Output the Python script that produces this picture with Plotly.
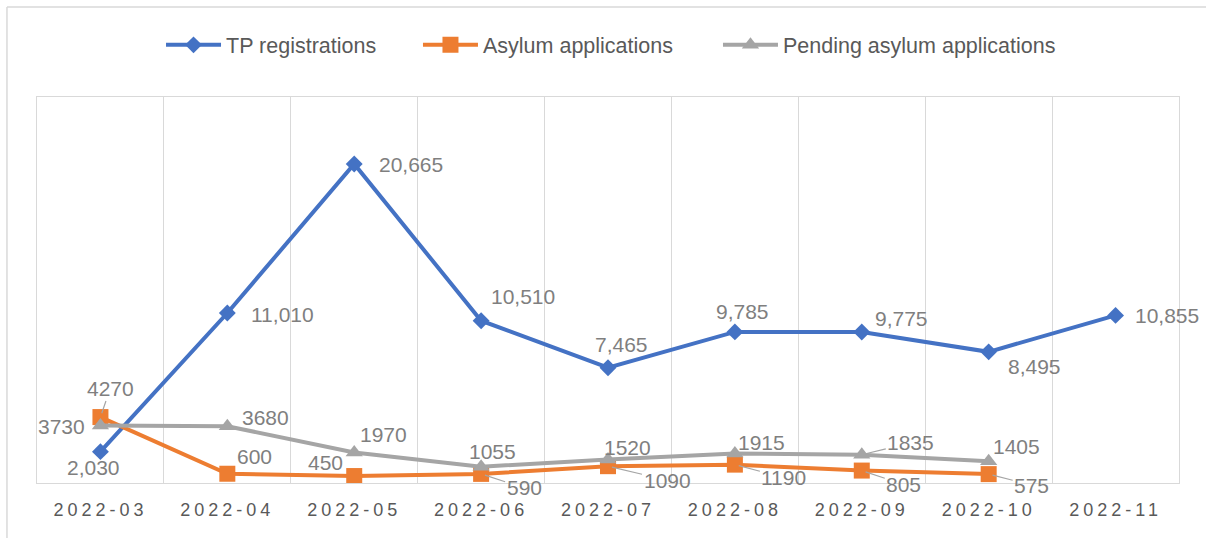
import plotly.graph_objects as go

months = ["2022-03", "2022-04", "2022-05", "2022-06", "2022-07", "2022-08", "2022-09", "2022-10", "2022-11"]
tp_registrations = [2030, 11010, 20665, 10510, 7465, 9785, 9775, 8495, 10855]
asylum_applications = [4270, 600, 450, 590, 1090, 1190, 805, 575]
pending_applications = [3730, 3680, 1970, 1055, 1520, 1915, 1835, 1405]

tp_text = [f"{v:,}" for v in tp_registrations]
asylum_text = [str(v) for v in asylum_applications]
pending_text = [str(v) for v in pending_applications]

# label placement (pixel offsets of label centre from point; leader flag)
tp_offsets = [(-7, 16, False), (55, 1, False), (57, 1, False), (42, -24, False), (13, -23, False),
              (8, -20, False), (40, -14, False), (46, 15, False), (51, 0, False)]
asylum_offsets = [(10, -29, True), (27, -17, False), (-29, -14, False), (43, 14, True), (59, 14, True),
                  (49, 13, True), (42, 14, True), (43, 11, True)]
pending_offsets = [(-39, 1, False), (38, -9, False), (29, -18, False), (11, -15, False), (19, -12, False),
                   (27, -11, False), (49, -12, True), (28, -15, False)]

BLUE = "#4472C4"
ORANGE = "#ED7D31"
GRAY = "#A5A5A5"
GRID = "#D9D9D9"
LABEL = "#7F7F7F"
TEXT = "#595959"
FONT = "Liberation Sans"

fig = go.Figure()
fig.add_trace(go.Scatter(x=months, y=tp_registrations, name="TP registrations", mode="lines+markers",
                         line=dict(color=BLUE, width=4), marker=dict(symbol="diamond", size=13, color=BLUE),
                         legend="legend"))
fig.add_trace(go.Scatter(x=months[:len(asylum_applications)], y=asylum_applications, name="Asylum applications",
                         mode="lines+markers", line=dict(color=ORANGE, width=4),
                         marker=dict(symbol="square", size=16, color=ORANGE), legend="legend2"))
fig.add_trace(go.Scatter(x=months[:len(pending_applications)], y=pending_applications,
                         name="Pending asylum applications", mode="lines+markers",
                         line=dict(color=GRAY, width=4), marker=dict(symbol="triangle-up", size=15, color=GRAY),
                         legend="legend3"))

annotations = []
for vals, texts, offs in [(tp_registrations, tp_text, tp_offsets),
                          (asylum_applications, asylum_text, asylum_offsets),
                          (pending_applications, pending_text, pending_offsets)]:
    for i, (v, t) in enumerate(zip(vals, texts)):
        dx, dy, leader = offs[i]
        if leader:
            annotations.append(dict(x=months[i], y=v, xref="x", yref="y", text=t, showarrow=True,
                                    ax=dx, ay=dy, axref="pixel", ayref="pixel", arrowhead=0,
                                    arrowwidth=1.2, arrowcolor=GRAY, standoff=4,
                                    font=dict(family=FONT, size=21, color=LABEL)))
        else:
            annotations.append(dict(x=months[i], y=v, xref="x", yref="y", text=t, showarrow=False,
                                    xshift=dx, yshift=-dy, xanchor="center", yanchor="middle",
                                    font=dict(family=FONT, size=21, color=LABEL)))

def legend_at(xp):
    return dict(orientation="h", x=xp, xanchor="left", y=1.135, yanchor="middle", itemwidth=55,
                font=dict(family=FONT, size=21.5, color=TEXT), bgcolor="rgba(0,0,0,0)")

fig.update_layout(
    width=1206, height=538,
    margin=dict(l=37, r=27, t=97, b=55),
    paper_bgcolor="white", plot_bgcolor="white",
    font=dict(family=FONT, color=TEXT),
    showlegend=True,
    legend=legend_at(0.1086),
    legend2=legend_at(0.3336),
    legend3=legend_at(0.5963),
    xaxis=dict(type="category", tickson="boundaries", showgrid=True, gridcolor=GRID, gridwidth=1,
               showline=True, linecolor=GRID, linewidth=1, mirror=True,
               ticks="", ticklabelstandoff=10,
               tickfont=dict(family=FONT, size=18, color=TEXT), range=[-0.5, 8.5]),
    yaxis=dict(range=[0, 25000], showticklabels=False, showgrid=False, zeroline=False,
               showline=True, linecolor=GRID, linewidth=1, mirror=True),
    annotations=annotations,
    shapes=[
        dict(type="line", xref="paper", yref="paper", x0=-0.0263, x1=-0.0263, y0=-0.3, y1=1.2332,
             line=dict(color=GRID, width=1.5)),
        dict(type="line", xref="paper", yref="paper", x0=-0.0263, x1=1.1, y0=1.2332, y1=1.2332,
             line=dict(color=GRID, width=1.5)),
    ],
)

post = """
document.querySelectorAll('.xtick text').forEach(function(t){t.style.letterSpacing='4px';});
"""
fig.write_html("out.html", post_script=post)
